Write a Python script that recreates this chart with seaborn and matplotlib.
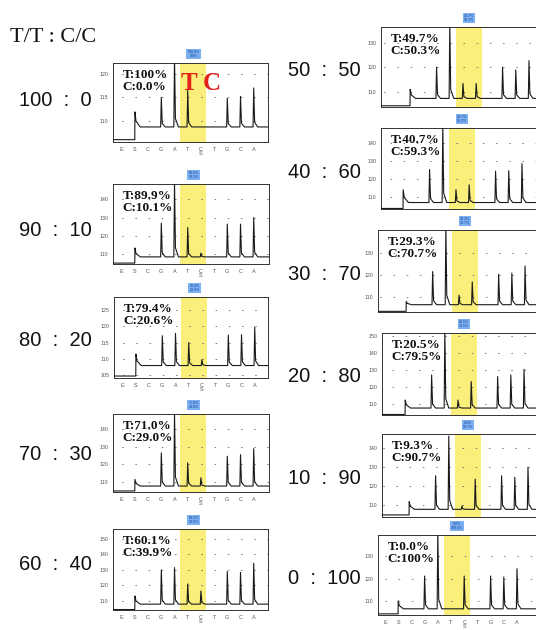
import matplotlib
matplotlib.use("Agg")
import matplotlib.pyplot as plt
import seaborn as sns
import pandas as pd

# ---------------- data ----------------
ratio_t = [100, 90, 80, 70, 60, 50, 40, 30, 20, 10, 0]
ratio_c = [0, 10, 20, 30, 40, 50, 60, 70, 80, 90, 100]
t_percent = [100.0, 89.9, 79.4, 71.0, 60.1, 49.7, 40.7, 29.3, 20.5, 9.3, 0.0]
c_percent = [0.0, 10.1, 20.6, 29.0, 39.9, 50.3, 59.3, 70.7, 79.5, 90.7, 100.0]
dispensation = ["E", "S", "C", "G", "A", "T", "C\nS", "T", "G", "C", "A"]

baseline = [108.7, 108.4, 108.0, 107.7, 107.8, 107.3, 106.9, 106.5, 107.8, 107.5, 106.8]
pre_signal = [106.0, 105.0, 104.8, 104.9, 104.3, 104.3, 103.6, 103.5, 104.0, 104.5, 104.6]
s_peak = [111.9, 113.3, 111.5, 111.5, 113.1, 111.0, 114.0, 108.0, 112.5, 111.6, 110.3]
g_peak = [115.0, 126.9, 117.1, 126.6, 130.0, 120.0, 125.2, 121.5, 127.3, 125.4, 121.1]
a_peak = [123.5, 150.0, 117.8, 150.0, 131.5, 138.0, 150.0, 142.0, 154.0, 146.6, 141.0]
t_peak = [116.5, 124.5, 115.0, 121.0, 120.9, 113.4, 114.0, 110.8, 112.5, 109.3, 106.8]
c_peak = [108.7, 110.5, 109.8, 112.4, 116.3, 113.4, 116.7, 116.8, 123.4, 123.6, 121.1]
g2_peak = [114.8, 126.4, 117.3, 124.7, 128.9, 120.0, 124.3, 120.3, 126.3, 125.4, 121.1]
c2_peak = [115.2, 126.4, 117.4, 125.6, 128.5, 118.9, 124.6, 120.8, 127.3, 124.6, 120.7]
a2_peak = [117.0, 130.0, 119.7, 129.0, 134.3, 122.7, 128.5, 124.0, 130.6, 130.0, 124.3]

y_low = [105.5, 104.5, 104.2, 104.3, 104.0, 103.8, 103.3, 103.2, 103.7, 103.4, 104.1]
y_high = [122.3, 148.4, 128.9, 148.8, 156.5, 136.4, 148.3, 140.3, 152.0, 147.7, 139.0]
y_ticks = [[110, 115, 120], [110, 120, 130, 140], [105, 110, 115, 120, 125],
           [110, 120, 130, 140], [110, 120, 130, 140, 150], [110, 120, 130],
           [110, 120, 130, 140], [110, 120, 130], [110, 120, 130, 140, 150],
           [110, 120, 130, 140], [110, 120, 130]]

# ---------------- layout (pixels) ----------------
W, H = 536, 630
panel_px = [(113, 63, 268, 142), (113, 184, 269, 264), (114, 297, 268, 378),
            (113, 414, 269, 492), (113, 529, 268, 610),
            (381, 27, 550, 107), (381, 128, 550, 209), (378, 230, 550, 312),
            (382, 333, 550, 415), (382, 434, 550, 517), (378, 535, 550, 615)]
x_start = [-0.66, -0.66, -0.66, -0.66, -0.66, -1.21, -0.68, -1.14, -0.76, -1.06, -0.53]
label_pos = [(19, 100), (19, 230), (19, 340), (19, 455), (19, 565),
             (361, 70), (361, 173), (361, 275), (361, 377), (361, 478), (361, 578)]
PX_PER_UNIT = 13.2

sns.set_style("white")
plt.rcParams["lines.scale_dashes"] = False
plt.rcParams["font.family"] = ["Liberation Sans", "DejaVu Sans"]

fig = plt.figure(figsize=(W / 100, H / 100), dpi=100)

fig.text(10 / W, 1 - 38 / H, "T/T : C/C", family="Liberation Serif", fontsize=16,
         ha="left", va="center", color="#111")

pos = {"S": 1, "G": 3, "A": 4, "T": 5, "C": 6, "G2": 8, "C2": 9, "A2": 10}

for i in range(11):
    l, t, r, b = panel_px[i]
    ax = fig.add_axes([l / W, 1 - b / H, (r - l) / W, (b - t) / H])
    xmin = x_start[i]
    xmax = xmin + (r - l) / PX_PER_UNIT
    base = baseline[i]

    # trace
    xs = [xmin, pos["S"] - 0.01, pos["S"], pos["S"] + 0.08, pos["S"] + 0.4]
    ys = [pre_signal[i], pre_signal[i], s_peak[i], base + 0.4 * (s_peak[i] - base), base]
    peaks = [("G", g_peak[i]), ("A", a_peak[i]), ("T", t_peak[i]), ("C", c_peak[i]),
             ("G2", g2_peak[i]), ("C2", c2_peak[i]), ("A2", a2_peak[i])]
    for name, h in peaks:
        p = pos[name]
        xs += [p - 0.05, p, p + 0.07, p + 0.3]
        ys += [base, h, base + 0.12 * (h - base), base]
    xs.append(xmax)
    ys.append(base)
    df = pd.DataFrame({"x": xs, "y": ys})

    ax.axvspan(4.45, 6.42, color="#fbef7c", lw=0, zorder=0.3)
    sns.lineplot(data=df, x="x", y="y", ax=ax, sort=False, estimator=None,
                 color="#1a1a1a", lw=0.8, zorder=3)

    ax.set_xlim(xmin, xmax)
    ax.set_ylim(y_low[i], y_high[i])
    ax.set_xlabel("")
    ax.set_ylabel("")
    ax.set_yticks(y_ticks[i])
    ax.set_yticklabels([str(v) for v in y_ticks[i]])
    ax.set_xticks(range(11))
    if i < 5 or i == 10:
        ax.set_xticklabels(dispensation, linespacing=0.8)
    else:
        ax.set_xticklabels([""] * 11)
    ax.tick_params(axis="both", direction="out", length=2, width=0.5,
                   labelsize=3.8, pad=1.5, colors="#555")
    ax.tick_params(axis="x", labelsize=4.0)
    for sp in ax.spines.values():
        sp.set_linewidth(0.7)
        sp.set_color("#333")
        sp.set_visible(True)

    unit_pt = PX_PER_UNIT * 0.72
    off = (unit_pt - ((-xmin) % 1) * unit_pt) % unit_pt
    ax.yaxis.grid(True, linestyle=(off, (1.1, unit_pt - 1.1)), color="#666", lw=0.6)
    ax.xaxis.grid(False)
    ax.set_axisbelow(True)

    t_txt = "100%" if t_percent[i] == 100 else f"{t_percent[i]:.1f}%"
    c_txt = "100%" if c_percent[i] == 100 else f"{c_percent[i]:.1f}%"
    ax.annotate(f"T:{t_txt}\nC:{c_txt}", xy=(0, 1), xycoords="axes fraction",
                xytext=(7, -4), textcoords="offset points", ha="left", va="top",
                family="Liberation Serif", fontweight="bold", fontsize=9.5,
                linespacing=1.0, color="#111", zorder=5)

    ax.annotate(f"{t_percent[i]:.1f}%\n{c_percent[i]:.1f}%", xy=(5.45, 1.0),
                xycoords=("data", "axes fraction"), xytext=(0, 3.5),
                textcoords="offset points", ha="center", va="bottom",
                fontsize=2.6, color="#1d3c8f", linespacing=1.0,
                bbox=dict(boxstyle="square,pad=0.35", fc="#7bb0f2", ec="none"),
                annotation_clip=False)

    lx, ly = label_pos[i]
    fig.text(lx / W, 1 - ly / H, f"{ratio_t[i]}  :  {ratio_c[i]}",
             ha="left" if i < 5 else "right", va="center", fontsize=14.5,
             color="#111")

    if i == 0:
        ax.text(0.49, 0.74, "T", transform=ax.transAxes, ha="center", va="center",
                family="Liberation Serif", fontweight="bold", fontsize=18,
                color="#e3211b", zorder=6)
        ax.text(0.64, 0.74, "C", transform=ax.transAxes, ha="center", va="center",
                family="Liberation Serif", fontweight="bold", fontsize=18,
                color="#e3211b", zorder=6)

fig.savefig("out.png", dpi=100)
